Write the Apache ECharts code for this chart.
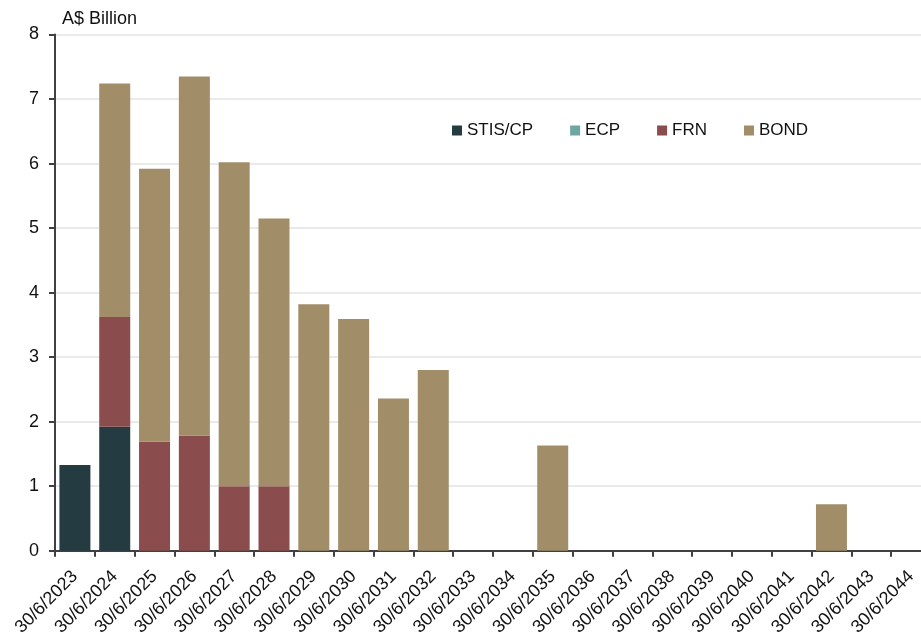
<!DOCTYPE html>
<html><head><meta charset="utf-8">
<script src="https://cdn.jsdelivr.net/npm/echarts@6/dist/echarts.min.js"></script>
<style>html,body{margin:0;padding:0;background:#fff}#c{width:921px;height:640px}</style>
</head><body><div id="c"></div>
<script>
const categories = ['30/6/2023','30/6/2024','30/6/2025','30/6/2026','30/6/2027','30/6/2028','30/6/2029','30/6/2030','30/6/2031','30/6/2032','30/6/2033','30/6/2034','30/6/2035','30/6/2036','30/6/2037','30/6/2038','30/6/2039','30/6/2040','30/6/2041','30/6/2042','30/6/2043','30/6/2044'];
const stisCp = [1.33,1.92,0,0,0,0,0,0,0,0,0,0,0,0,0,0,0,0,0,0,0,0];
const ecp    = [0,0,0,0,0,0,0,0,0,0,0,0,0,0,0,0,0,0,0,0,0,0];
const frn    = [0,1.70,1.69,1.78,1.00,1.00,0,0,0,0,0,0,0,0,0,0,0,0,0,0,0,0];
const bond   = [0,3.62,4.23,5.57,5.02,4.15,3.82,3.59,2.36,2.80,0,0,1.63,0,0,0,0,0,0,0.72,0,0];
const yTicks = [0,1,2,3,4,5,6,7,8];

const font = 'Arial, "Liberation Sans", sans-serif';
const chart = echarts.init(document.getElementById('c'), null, {renderer:'canvas'});
function s(name, data, color){
  return {name, type:'bar', stack:'t', data, barWidth:31, itemStyle:{color}, emphasis:{disabled:true}};
}
chart.setOption({
  animation:false,
  grid:{left:55, width:876, top:34.5, bottom:89.3, containLabel:false, outerBoundsMode:'none'},
  legend:{
    left:447, top:117, itemWidth:10, itemHeight:10, itemGap:37,
    icon:'rect',
    textStyle:{fontFamily:font, fontSize:17, color:'#111'},
    data:['STIS/CP','ECP','FRN','BOND']
  },
  xAxis:{
    type:'category', data:categories,
    axisLine:{lineStyle:{color:'#404040', width:2}},
    axisTick:{show:true, alignWithLabel:false, length:6, lineStyle:{color:'#404040', width:2}},
    axisLabel:{rotate:45, interval:0, fontFamily:font, fontSize:18, color:'#111', margin:23}
  },
  yAxis:{
    type:'value', min:0, max:8, interval:1,
    name:'A$ Billion', nameLocation:'end', nameGap:6,
    nameTextStyle:{fontFamily:font, fontSize:18, color:'#111', align:'left', padding:[0,0,0,7]},
    axisLine:{show:true, lineStyle:{color:'#404040', width:2}},
    axisTick:{show:true, length:6, lineStyle:{color:'#404040', width:2}},
    axisLabel:{fontFamily:font, fontSize:18, color:'#111', margin:16,
      formatter:v=> yTicks.includes(v) ? String(v) : ''},
    splitLine:{show:true, lineStyle:{color:'#e3e3e3', width:1.5}}
  },
  series:[
    s('STIS/CP', stisCp, '#233b41'),
    s('ECP', ecp, '#6fa6a3'),
    s('FRN', frn, '#8a4c4d'),
    s('BOND', bond, '#a18d68')
  ]
});
</script></body></html>
